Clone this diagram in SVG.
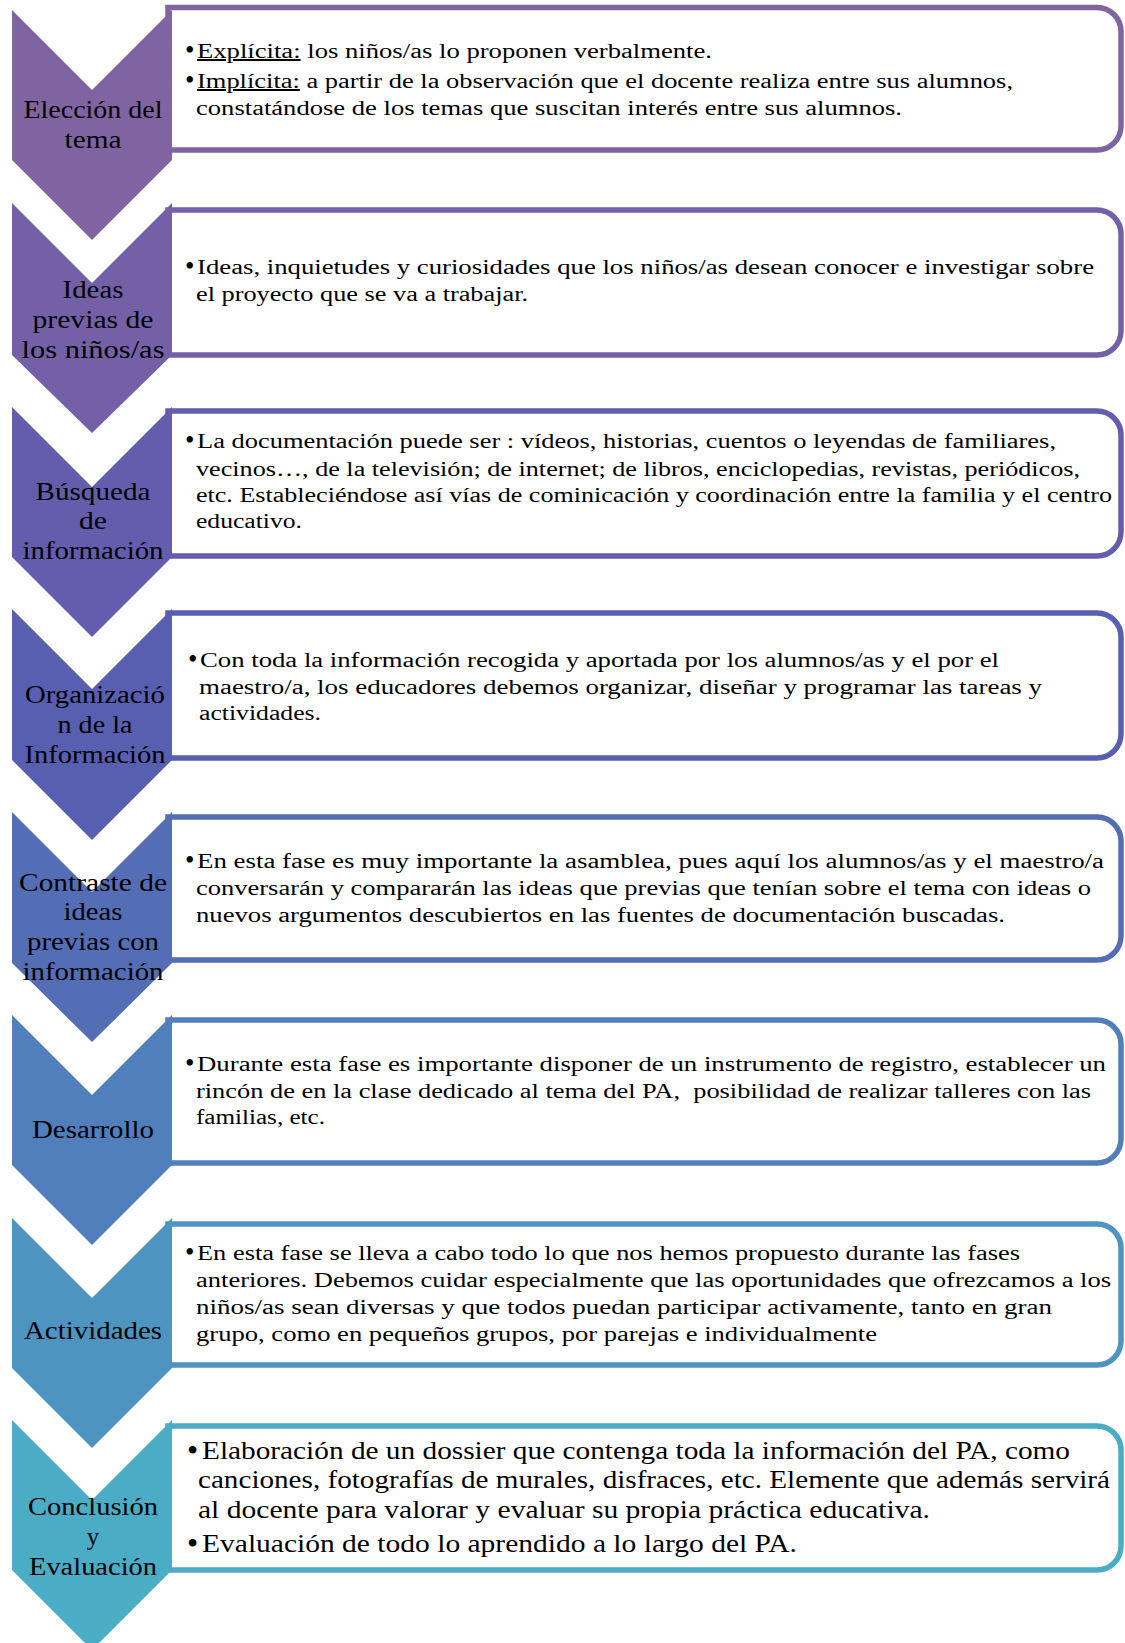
<svg xmlns="http://www.w3.org/2000/svg" width="1125" height="1643" viewBox="0 0 1125 1643">
<style>
.box{fill:#ffffff;stroke-width:5.5}
.lbl{font-family:"Liberation Serif","Times New Roman",serif;font-size:25px;fill:#000;text-anchor:middle}
.t{font-family:"Liberation Serif","Times New Roman",serif;font-size:20px;fill:#000}
.b{font-size:24.5px}
.bu{font-family:"Liberation Serif","Times New Roman",serif;font-size:27px;fill:#000}
.bb{font-size:32px}
.u{text-decoration:underline}
</style>
<rect width="1125" height="1643" fill="#ffffff"/>

<g id="n1">
<path class="box" stroke="#8064A2" d="M168,7.5 H1097 A24,24 0 0 1 1121,31.5 V126 A24,24 0 0 1 1097,150 H168 Z"/>
<path fill="#8064A2" d="M12,10 L92,90 L172,10 V160 L92,240 L12,160 Z"/>
<text class="lbl" x="93" y="118" textLength="139" lengthAdjust="spacingAndGlyphs">Elección del</text>
<text class="lbl" x="93" y="148" textLength="57" lengthAdjust="spacingAndGlyphs">tema</text>
<text class="bu" x="185" y="59">•</text>
<text class="t" x="197" y="58" textLength="515" lengthAdjust="spacingAndGlyphs"><tspan class="u">Explícita:</tspan> los niños/as lo proponen verbalmente.</text>
<text class="bu" x="185" y="89">•</text>
<text class="t" x="197" y="88" textLength="816" lengthAdjust="spacingAndGlyphs"><tspan class="u">Implícita:</tspan> a partir de la observación que el docente realiza entre sus alumnos,</text>
<text class="t" x="196" y="115" textLength="706" lengthAdjust="spacingAndGlyphs">constatándose de los temas que suscitan interés entre sus alumnos.</text>
</g>

<g id="n2">
<path class="box" stroke="#7460A7" d="M168,210 H1097 A24,24 0 0 1 1121,234 V331 A24,24 0 0 1 1097,355 H168 Z"/>
<path fill="#7460A7" d="M12,203 L92,283 L172,203 V355 L92,433 L12,355 Z"/>
<text class="lbl" x="93" y="298" textLength="61" lengthAdjust="spacingAndGlyphs">Ideas</text>
<text class="lbl" x="93" y="328" textLength="121" lengthAdjust="spacingAndGlyphs">previas de</text>
<text class="lbl" x="93" y="358" textLength="143" lengthAdjust="spacingAndGlyphs">los niños/as</text>
<text class="bu" x="185" y="275">•</text>
<text class="t" x="197" y="274" textLength="897" lengthAdjust="spacingAndGlyphs">Ideas, inquietudes y curiosidades que los niños/as desean conocer e investigar sobre</text>
<text class="t" x="196" y="301" textLength="332" lengthAdjust="spacingAndGlyphs">el proyecto que se va a trabajar.</text>
</g>

<g id="n3">
<path class="box" stroke="#645DAD" d="M168,411 H1097 A24,24 0 0 1 1121,435 V532 A24,24 0 0 1 1097,556 H168 Z"/>
<path fill="#645DAD" d="M12,407 L92,487 L172,407 V557 L92,637 L12,557 Z"/>
<text class="lbl" x="93" y="500" textLength="115" lengthAdjust="spacingAndGlyphs">Búsqueda</text>
<text class="lbl" x="93" y="529" textLength="28" lengthAdjust="spacingAndGlyphs">de</text>
<text class="lbl" x="93" y="559" textLength="141" lengthAdjust="spacingAndGlyphs">información</text>
<text class="bu" x="185" y="449">•</text>
<text class="t" x="197" y="448" textLength="859" lengthAdjust="spacingAndGlyphs">La documentación puede ser : vídeos, historias, cuentos o leyendas de familiares,</text>
<text class="t" x="196" y="476" textLength="884" lengthAdjust="spacingAndGlyphs">vecinos…, de la televisión; de internet; de libros, enciclopedias, revistas, periódicos,</text>
<text class="t" x="196" y="502" textLength="916" lengthAdjust="spacingAndGlyphs">etc. Estableciéndose así vías de cominicación y coordinación entre la familia y el centro</text>
<text class="t" x="196" y="528" textLength="106" lengthAdjust="spacingAndGlyphs">educativo.</text>
</g>

<g id="n4">
<path class="box" stroke="#585FB1" d="M168,613 H1097 A24,24 0 0 1 1121,637 V734 A24,24 0 0 1 1097,758 H168 Z"/>
<path fill="#585FB1" d="M12,609 L92,689 L172,609 V760 L92,840 L12,760 Z"/>
<text class="lbl" x="95" y="703" textLength="140" lengthAdjust="spacingAndGlyphs">Organizació</text>
<text class="lbl" x="95" y="733" textLength="75" lengthAdjust="spacingAndGlyphs">n de la</text>
<text class="lbl" x="95" y="763" textLength="141" lengthAdjust="spacingAndGlyphs">Información</text>
<text class="bu" x="188" y="668">•</text>
<text class="t" x="200" y="667" textLength="799" lengthAdjust="spacingAndGlyphs">Con toda la información recogida y aportada por los alumnos/as y el por el</text>
<text class="t" x="199" y="694" textLength="843" lengthAdjust="spacingAndGlyphs">maestro/a, los educadores debemos organizar, diseñar y programar las tareas y</text>
<text class="t" x="199" y="720" textLength="122" lengthAdjust="spacingAndGlyphs">actividades.</text>
</g>

<g id="n5">
<path class="box" stroke="#546EB6" d="M168,817 H1097 A24,24 0 0 1 1121,841 V936 A24,24 0 0 1 1097,960 H168 Z"/>
<path fill="#546EB6" d="M12,812 L92,892 L172,812 V963 L92,1042 L12,963 Z"/>
<text class="lbl" x="93" y="891" textLength="148" lengthAdjust="spacingAndGlyphs">Contraste de</text>
<text class="lbl" x="93" y="920" textLength="59" lengthAdjust="spacingAndGlyphs">ideas</text>
<text class="lbl" x="93" y="950" textLength="132" lengthAdjust="spacingAndGlyphs">previas con</text>
<text class="lbl" x="93" y="980" textLength="141" lengthAdjust="spacingAndGlyphs">información</text>
<text class="bu" x="185" y="869">•</text>
<text class="t" x="197" y="868" textLength="907" lengthAdjust="spacingAndGlyphs">En esta fase es muy importante la asamblea, pues aquí los alumnos/as y el maestro/a</text>
<text class="t" x="196" y="895" textLength="895" lengthAdjust="spacingAndGlyphs">conversarán y compararán las ideas que previas que tenían sobre el tema con ideas o</text>
<text class="t" x="196" y="922" textLength="809" lengthAdjust="spacingAndGlyphs">nuevos argumentos descubiertos en las fuentes de documentación buscadas.</text>
</g>

<g id="n6">
<path class="box" stroke="#517FBC" d="M168,1020 H1097 A24,24 0 0 1 1121,1044 V1139 A24,24 0 0 1 1097,1163 H168 Z"/>
<path fill="#517FBC" d="M12,1015 L92,1095 L172,1015 V1165 L92,1245 L12,1165 Z"/>
<text class="lbl" x="93" y="1138" textLength="122" lengthAdjust="spacingAndGlyphs">Desarrollo</text>
<text class="bu" x="185" y="1072">•</text>
<text class="t" x="197" y="1071" textLength="909" lengthAdjust="spacingAndGlyphs">Durante esta fase es importante disponer de un instrumento de registro, establecer un</text>
<text class="t" x="196" y="1098" textLength="895" lengthAdjust="spacingAndGlyphs" xml:space="preserve">rincón de en la clase dedicado al tema del PA,  posibilidad de realizar talleres con las</text>
<text class="t" x="196" y="1124" textLength="129" lengthAdjust="spacingAndGlyphs">familias, etc.</text>
</g>

<g id="n7">
<path class="box" stroke="#4E94C1" d="M168,1224 H1097 A24,24 0 0 1 1121,1248 V1341 A24,24 0 0 1 1097,1365 H168 Z"/>
<path fill="#4E94C1" d="M12,1218 L92,1298 L172,1218 V1368 L92,1448 L12,1368 Z"/>
<text class="lbl" x="93" y="1339" textLength="138" lengthAdjust="spacingAndGlyphs">Actividades</text>
<text class="bu" x="185" y="1261">•</text>
<text class="t" x="197" y="1260" textLength="823" lengthAdjust="spacingAndGlyphs">En esta fase se lleva a cabo todo lo que nos hemos propuesto durante las fases</text>
<text class="t" x="196" y="1287" textLength="915" lengthAdjust="spacingAndGlyphs">anteriores. Debemos cuidar especialmente que las oportunidades que ofrezcamos a los</text>
<text class="t" x="196" y="1314" textLength="856" lengthAdjust="spacingAndGlyphs">niños/as sean diversas y que todos puedan participar activamente, tanto en gran</text>
<text class="t" x="196" y="1341" textLength="681" lengthAdjust="spacingAndGlyphs">grupo, como en pequeños grupos, por parejas e individualmente</text>
</g>

<g id="n8">
<path class="box" stroke="#4BACC6" d="M168,1426 H1097 A24,24 0 0 1 1121,1450 V1546 A24,24 0 0 1 1097,1570 H168 Z"/>
<path fill="#4BACC6" d="M12,1420 L92,1500 L172,1420 V1570 L92,1650 L12,1570 Z"/>
<text class="lbl" x="93" y="1515" textLength="130" lengthAdjust="spacingAndGlyphs">Conclusión</text>
<text class="lbl" x="93" y="1545">y</text>
<text class="lbl" x="93" y="1575" textLength="128" lengthAdjust="spacingAndGlyphs">Evaluación</text>
<text class="bu bb" x="187" y="1461">•</text>
<text class="t b" x="202" y="1459" textLength="868" lengthAdjust="spacingAndGlyphs">Elaboración de un dossier que contenga toda la información del PA, como</text>
<text class="t b" x="198" y="1488" textLength="912" lengthAdjust="spacingAndGlyphs">canciones, fotografías de murales, disfraces, etc. Elemente que además servirá</text>
<text class="t b" x="198" y="1518" textLength="732" lengthAdjust="spacingAndGlyphs">al docente para valorar y evaluar su propia práctica educativa.</text>
<text class="bu bb" x="187" y="1554">•</text>
<text class="t b" x="202" y="1552" textLength="595" lengthAdjust="spacingAndGlyphs">Evaluación de todo lo aprendido a lo largo del PA.</text>
</g>
</svg>
